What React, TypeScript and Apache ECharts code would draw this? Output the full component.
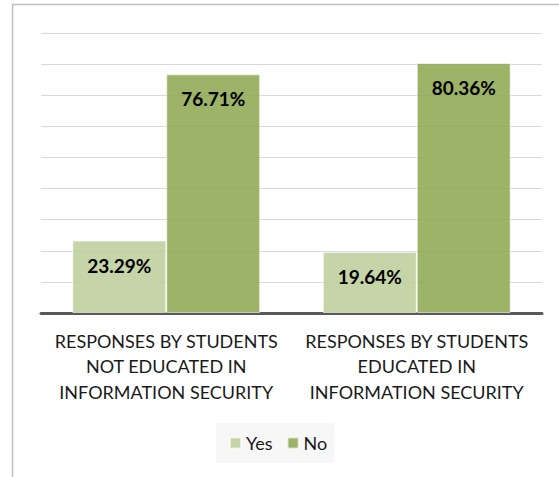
import React, { useEffect, useRef } from "react";
import * as echarts from "echarts";

const categories = [
  "RESPONSES BY STUDENTS\nNOT EDUCATED IN\nINFORMATION SECURITY",
  "RESPONSES BY STUDENTS\nEDUCATED IN\nINFORMATION SECURITY",
];
const yesValues = [23.29, 19.64];
const noValues = [76.71, 80.36];
const seriesNames = ["Yes", "No"];

const FONT = "Lato, 'Open Sans', sans-serif";

export default function App() {
  const ref = useRef<HTMLDivElement>(null);
  useEffect(() => {
    if (!ref.current) return;
    const chart = echarts.init(ref.current, undefined, { renderer: "svg" });
    const label = {
      show: true,
      position: "insideTop",
      distance: 15,
      formatter: (p: any) => p.value.toFixed(2) + "%",
      fontFamily: FONT,
      fontWeight: "bold",
      fontSize: 19,
      color: "#000",
    };
    chart.setOption({
      animation: false,
      textStyle: { fontFamily: FONT },
      graphic: [
        {
          type: "rect",
          shape: { x: 12.5, y: 4.5, width: 700, height: 700 },
          style: { fill: "none", stroke: "#bfbfbf", lineWidth: 1.5 },
          silent: true,
          z: -1,
        },
      ],
      grid: { left: 41, right: 17, top: 33, bottom: 164, containLabel: false },
      legend: {
        data: seriesNames,
        left: 216,
        top: 423,
        backgroundColor: "#f7f7f7",
        padding: [11, 7, 11, 13],
        itemWidth: 11,
        itemHeight: 11,
        itemGap: 14,
        icon: "rect",
        textStyle: { fontFamily: FONT, fontSize: 18, color: "#1a1a1a" },
      },
      xAxis: {
        type: "category",
        data: categories,
        axisLine: { show: true, lineStyle: { color: "#595959", width: 3 } },
        axisTick: { show: false },
        axisLabel: {
          interval: 0,
          margin: 15,
          fontFamily: FONT,
          fontSize: 18,
          lineHeight: 25.5,
          color: "#1a1a1a",
          align: "center",
        },
      },
      yAxis: {
        type: "value",
        min: 0,
        max: 90,
        interval: 10,
        axisLabel: { show: false },
        axisLine: { show: false },
        axisTick: { show: false },
        splitLine: { lineStyle: { color: "#d9d9d9", width: 1 } },
      },
      series: [
        {
          name: seriesNames[0],
          type: "bar",
          data: yesValues,
          barGap: "0%",
          barCategoryGap: "25%",
          itemStyle: {
            color: "rgba(187,206,153,0.85)",
            borderColor: "rgba(255,255,255,0.6)",
            borderWidth: 1,
          },
          label,
        },
        {
          name: seriesNames[1],
          type: "bar",
          data: noValues,
          barGap: "0%",
          barCategoryGap: "25%",
          itemStyle: {
            color: "rgba(139,166,77,0.85)",
            borderColor: "rgba(255,255,255,0.6)",
            borderWidth: 1,
          },
          label,
        },
      ],
    });
    return () => chart.dispose();
  }, []);
  return (
    <div
      ref={ref}
      style={{ position: "fixed", left: 0, top: 0, width: 559, height: 477, background: "#fff" }}
    />
  );
}
